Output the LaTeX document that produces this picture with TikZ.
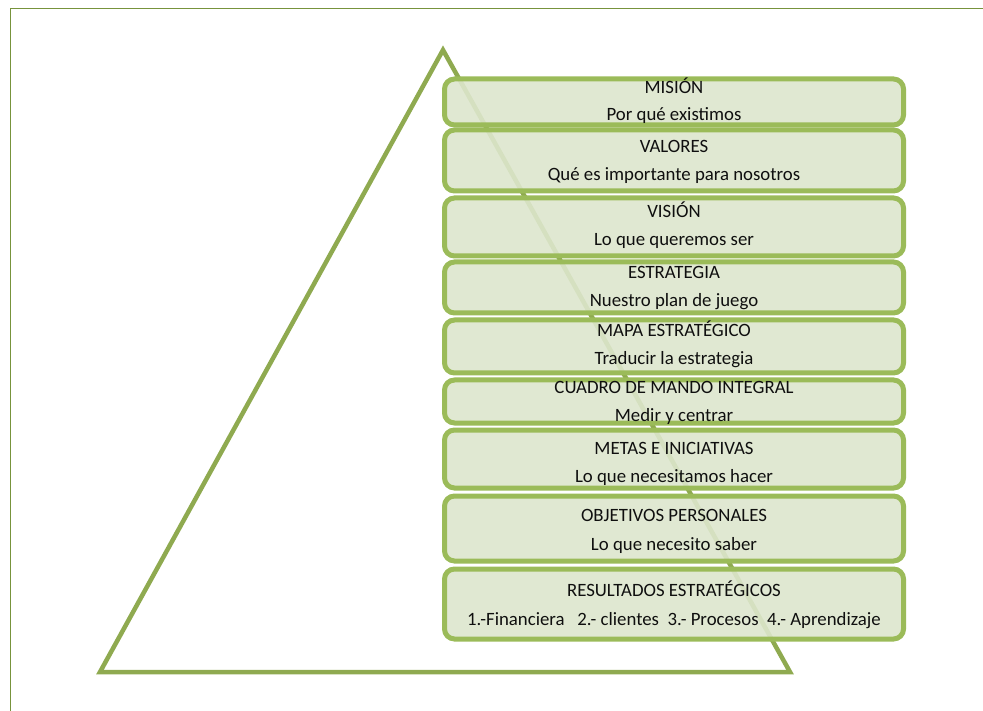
\documentclass[tikz,border=0pt]{standalone}
\usepackage{fontspec}
\setmainfont{Carlito}
\begin{document}
\definecolor{framegreen}{RGB}{119,147,60}
\definecolor{trigreen}{RGB}{143,170,80}
\definecolor{boxline}{RGB}{155,187,89}
\definecolor{boxfill}{RGB}{221,230,205}
\definecolor{txt}{RGB}{15,15,15}
\begin{tikzpicture}[x=1pt,y=-1pt,
  levelbox/.style={draw=boxline, line width=5pt, fill=boxfill, fill opacity=0.9,
    rounded corners=10pt, minimum width=459pt, inner sep=0pt, anchor=center},
  lbl/.style={text=txt, font=\fontsize{18.8}{22}\selectfont, inner sep=0pt, anchor=base}]
  \useasboundingbox (0,0) rectangle (983,711);
  % page frame
  \draw[framegreen, line width=1.8pt] (10.5,711) -- (10.5,8.5) -- (983,8.5);
  % pyramid outline
  \coordinate (apex) at (443,50);
  \coordinate (bl) at (100,672);
  \coordinate (br) at (790,672);
  \draw[trigreen, line width=4.5pt, line join=miter] (apex) -- (br) -- (bl) -- cycle;
  % stacked levels: name / center y / height / title baseline / subtitle baseline / title / subtitle
  \foreach \n/\cy/\h/\ty/\sy/\ttl/\sub in {
    1/102/46/94/121/MISIÓN/Por qué existimos,
    2/160.5/61/153/181/VALORES/Qué es importante para nosotros,
    3/227/58/218/246/VISIÓN/Lo que queremos ser,
    4/287.5/51/279/307/ESTRATEGIA/Nuestro plan de juego,
    5/346.5/53/337/365/MAPA ESTRATÉGICO/Traducir la estrategia,
    6/401.5/43/394/421/CUADRO DE MANDO INTEGRAL/Medir y centrar,
    7/459/58/454/482/METAS E INICIATIVAS/Lo que necesitamos hacer,
    8/528.5/65/521/550/OBJETIVOS PERSONALES/Lo que necesito saber}{
    \node[levelbox, minimum height=\h pt] (b\n) at (674,\cy) {};
    \node[lbl] (t\n) at (674,\ty) {\ttl};
    \node[lbl] (s\n) at (674,\sy) {\sub};
  }
  \node[levelbox, minimum height=70pt] (b9) at (674,604) {};
  \node[lbl] (t9) at (674,596) {RESULTADOS ESTRATÉGICOS};
  \node[lbl] (s9) at (674,625) {1.-Financiera\ \ \ 2.- clientes\ \ 3.- Procesos\ \ 4.- Aprendizaje};
\end{tikzpicture}
\end{document}
